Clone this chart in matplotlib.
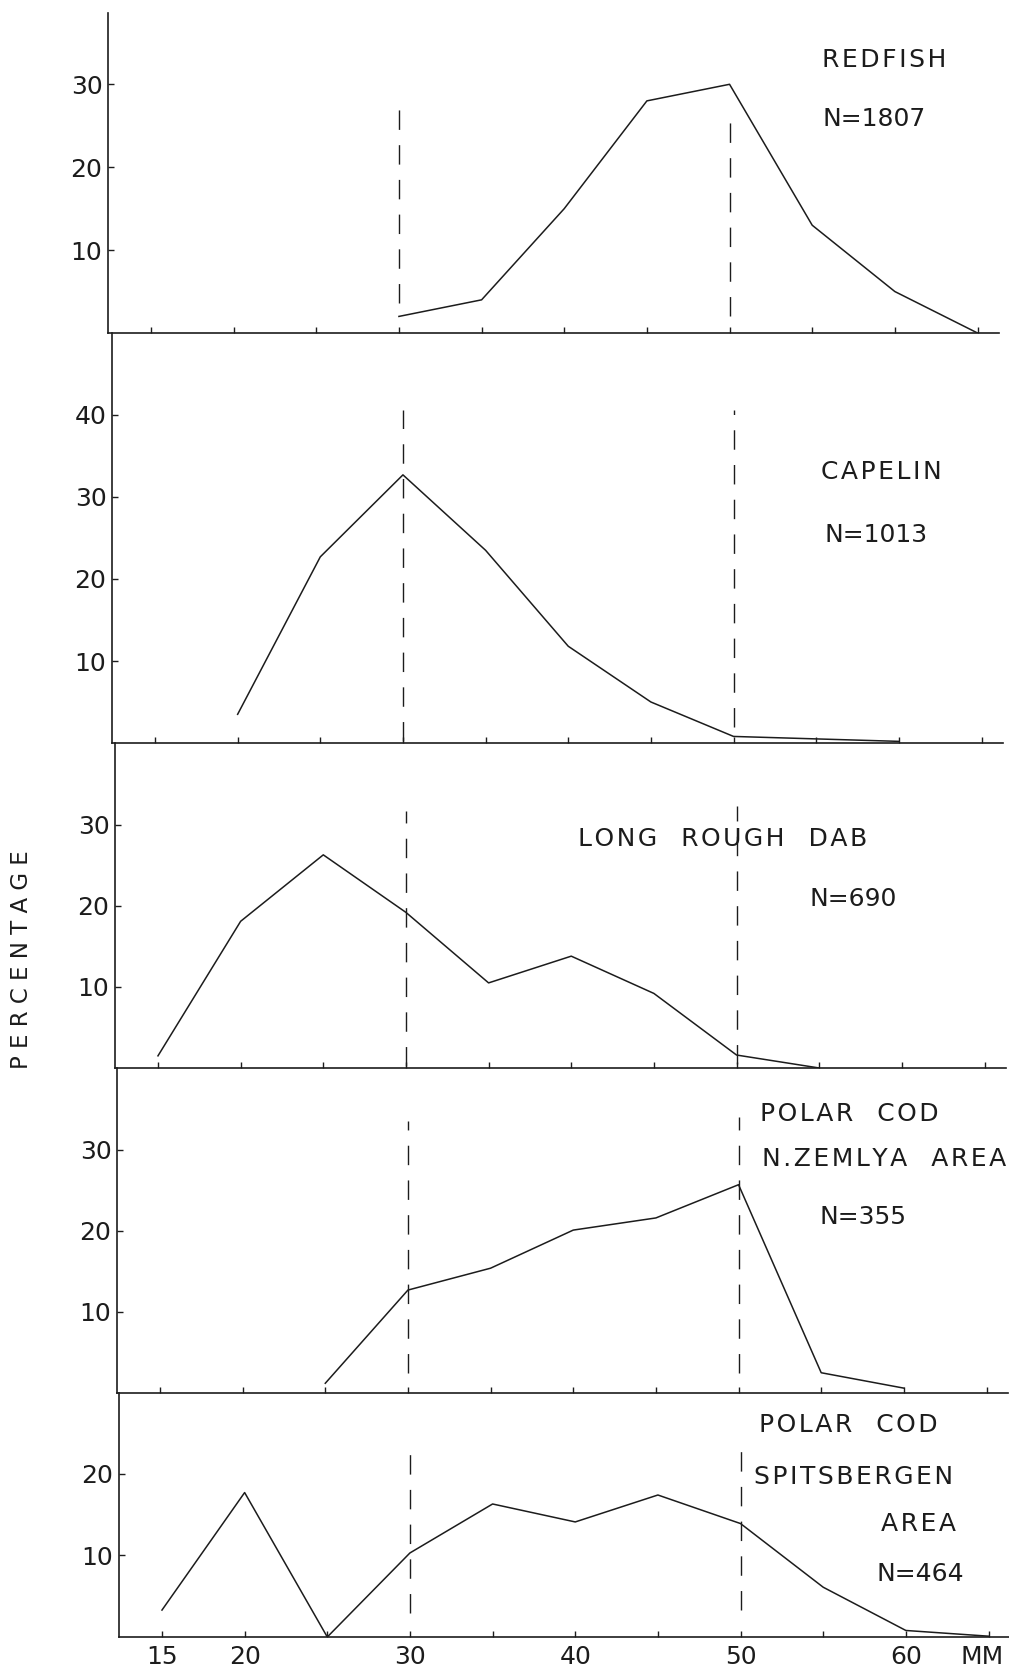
import matplotlib
matplotlib.use("Agg")
import matplotlib.pyplot as plt

plt.rcParams['font.family'] = ['DejaVu Sans']

# fish length classes (mm)
lengths_all = [15, 20, 25, 30, 35, 40, 45, 50, 55, 60, 65]

redfish_x = [30, 35, 40, 45, 50, 55, 60, 65]
redfish_y = [2, 4, 15, 28, 30, 13, 5, 0]

capelin_x = [20, 25, 30, 35, 40, 45, 50, 55, 60]
capelin_y = [3.5, 22.7, 32.7, 23.5, 11.8, 5, 0.8, 0.5, 0.2]

dab_x = [15, 20, 25, 30, 35, 40, 45, 50, 55]
dab_y = [1.5, 18.1, 26.3, 19.2, 10.5, 13.8, 9.2, 1.6, 0]

nzem_x = [25, 30, 35, 40, 45, 50, 55, 60]
nzem_y = [1.2, 12.7, 15.4, 20.1, 21.6, 25.7, 2.5, 0.6]

spits_x = [15, 20, 25, 30, 35, 40, 45, 50, 55, 60, 65]
spits_y = [3.3, 17.7, 0, 10.3, 16.3, 14.1, 17.4, 13.9, 6.1, 0.8, 0.1]

series_x = [redfish_x, capelin_x, dab_x, nzem_x, spits_x]
series_y = [redfish_y, capelin_y, dab_y, nzem_y, spits_y]

# dashed reference lines at 30 and 50 mm: (ymin, ymax) per panel
dash_30 = [(3.6, 28.4), (0.3, 40.6), (0.3, 31.7), (2.5, 33.5), (2.9, 22.4)]
dash_50 = [(2.0, 26.0), (2.0, 40.6), (0.5, 32.3), (2.5, 34.0), (3.3, 23.2)]

ytick_sets = [[10, 20, 30], [10, 20, 30, 40], [10, 20, 30], [10, 20, 30], [10, 20]]
xlabels = ['15', '20', '', '30', '', '40', '', '50', '', '60', '']

# panel labels: (text, x mm, y %)
panel_labels = [
    [("REDFISH", 55.6, 32.9), ("N=1807", 55.6, 25.8)],
    [("CAPELIN", 55.3, 33.0), ("N=1013", 55.5, 25.4)],
    [("LONG ROUGH DAB", 40.4, 28.3), ("N=690", 54.4, 20.9)],
    [("POLAR COD", 51.3, 34.4), ("N.ZEMLYA AREA", 51.4, 28.9), ("N=355", 54.9, 21.7)],
    [("POLAR COD", 51.1, 26.0), ("SPITSBERGEN", 50.8, 19.6), ("AREA", 58.5, 13.9), ("N=464", 58.2, 7.7)],
]


def spaced(s):
    # wide lettering of the original: hair space between letters, wide word gaps
    if s.startswith('N='):
        return s
    words = s.split(' ')
    return '   '.join('\u200a'.join(w) for w in words)


W, H = 1009, 1678
# panel extents in pixels (top, bottom), y-limits, slight skew of the scan
panel_px = [(13, 333), (333, 743), (743, 1068), (1068, 1393), (1393, 1637)]
ytops = [38.6, 50, 40.1, 40.1, 29.9]
skew_px = [-4, 0, 3, 5, 7]
left_px, right_px = 112, 1003

ink = '#1c1c1c'
fig = plt.figure(figsize=(W / 100, H / 100), dpi=100)

axes = []
for i, ((t, b), ytop) in enumerate(zip(panel_px, ytops)):
    l = left_px + skew_px[i]
    ax = fig.add_axes([l / W, 1 - b / H, (right_px - left_px) / W, (b - t) / H])
    axes.append(ax)
    ax.plot(series_x[i], series_y[i], color=ink, lw=1.1)
    ax.vlines(30, *dash_30[i], colors=ink, lw=1.0, linestyles=(0, (14, 11)))
    ax.vlines(50, *dash_50[i], colors=ink, lw=1.0, linestyles=(0, (14, 11)))
    ax.set_xlim(12.4, 66.3)
    ax.set_ylim(0, ytop)
    for s in ['top', 'right']:
        ax.spines[s].set_visible(False)
    for s in ['left', 'bottom']:
        ax.spines[s].set_color(ink)
        ax.spines[s].set_linewidth(1.2)
    ax.set_yticks(ytick_sets[i])
    ax.set_xticks(lengths_all)
    ax.tick_params(direction='in', length=4, width=1, color=ink,
                   labelsize=18, labelcolor=ink)
    ax.tick_params(axis='y', pad=4)
    if i < 4:
        ax.set_xticklabels([])
    else:
        ax.set_xticklabels(xlabels)
        ax.tick_params(axis='x', pad=6)
    for txt, x, y in panel_labels[i]:
        ax.text(x, y, spaced(txt), fontsize=18, color=ink, va='center', ha='left')
    ax.patch.set_alpha(0)

axes[-1].annotate("MM", xy=(63.3, 0), xytext=(0, -6), textcoords='offset points',
                  fontsize=18, color=ink, va='top', ha='left')

fig.text(22 / W, 1 - 960 / H, "P E R C E N T A G E", rotation=90, fontsize=16.5,
         color=ink, va='center', ha='center')

fig.savefig("out.png", dpi=100, facecolor='white')
